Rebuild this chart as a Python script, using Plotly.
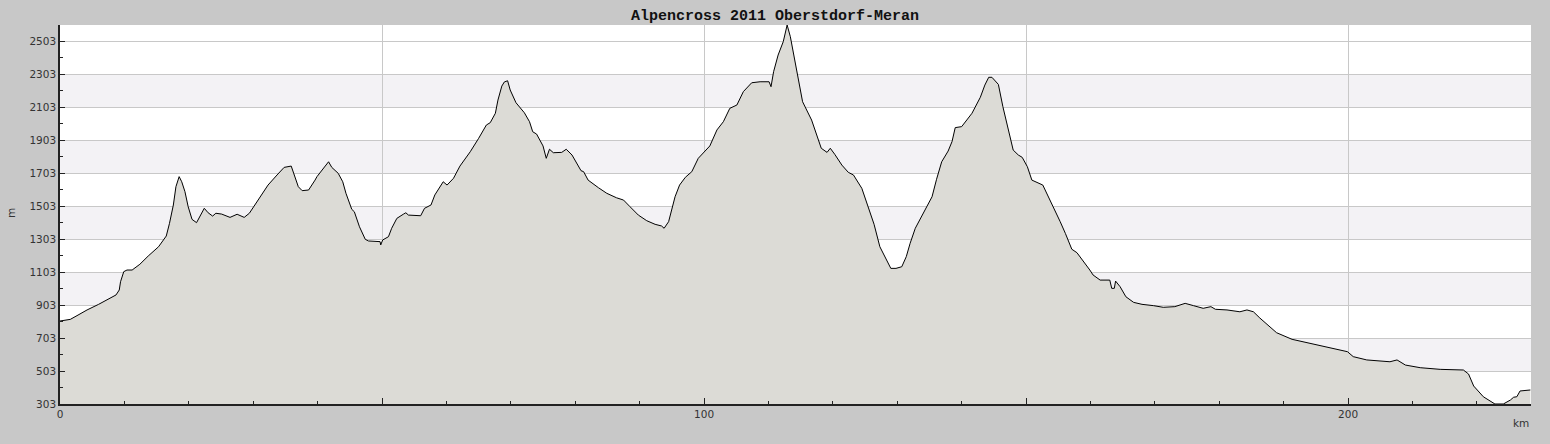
import plotly.graph_objects as go

km = [0.0, 1.6, 2.8, 4.2, 6.0, 7.5, 8.7, 9.2, 9.4, 9.9, 10.4, 11.2, 12.4, 13.7, 15.3, 16.5,
      17.0, 17.6, 18.0, 18.5, 18.9, 19.4, 19.9, 20.5, 21.2, 22.4, 23.0, 23.7, 24.2, 25.1,
      26.4, 27.5, 28.6, 29.4, 30.5, 32.3, 33.7, 34.8, 35.9, 36.5, 37.0, 37.6, 38.6, 39.6,
      39.9, 41.7, 42.2, 43.2, 43.9, 44.4, 45.0, 45.3, 45.7, 46.5, 47.4, 47.9, 49.7, 49.8,
      50.1, 51.0, 51.5, 52.3, 53.3, 53.7, 54.1, 56.0, 56.6, 57.6, 58.2, 59.5, 60.1, 61.1,
      62.1, 63.7, 65.0, 66.2, 66.8, 67.6, 68.0, 68.6, 69.0, 69.5, 69.9, 70.8, 72.1, 72.9,
      73.4, 74.0, 75.0, 75.5, 76.0, 76.6, 77.9, 78.6, 79.5, 80.2, 80.9, 81.3, 82.0, 83.6,
      84.9, 86.4, 87.5, 88.5, 89.8, 91.1, 92.4, 93.4, 93.8, 94.5, 95.0, 95.5, 96.2, 97.1,
      98.1, 99.1, 100.9, 102.0, 103.0, 104.0, 105.1, 106.1, 107.4, 108.7, 110.1, 110.4,
      110.8, 111.5, 112.3, 112.9, 113.4, 114.1, 114.6, 115.3, 116.7, 117.4, 118.2, 119.1,
      119.6, 120.3, 121.4, 122.4, 123.2, 124.5, 125.5, 126.4, 127.3, 128.1, 129.0, 129.8,
      130.7, 131.4, 132.0, 132.8, 134.3, 135.4, 136.1, 136.9, 137.9, 138.5, 139.0, 140.0,
      141.6, 142.9, 143.6, 144.2, 144.7, 145.7, 146.4, 147.5, 148.0, 148.8, 149.4, 150.2,
      150.9, 152.6, 154.0, 155.3, 156.1, 157.1, 157.9, 159.0, 159.9, 160.4, 161.5, 163.0,
      163.3, 163.7, 163.9, 164.6, 165.5, 166.7, 168.0, 169.8, 171.3, 173.1, 174.7, 176.0,
      177.5, 178.7, 179.4, 181.2, 183.2, 184.3, 185.3, 186.3, 187.4, 188.9, 191.3, 194.1,
      196.7, 198.5, 199.9, 200.8, 202.9, 206.5, 207.6, 208.9, 211.2, 214.3, 217.9, 218.7,
      219.5, 221.0, 222.8, 224.1, 225.2, 225.7, 226.2, 226.7, 228.3]
elevation = [806, 816, 842, 873, 907, 938, 964, 994, 1044, 1105, 1115, 1115, 1150, 1200, 1256, 1321,
             1398, 1509, 1620, 1681, 1650, 1590, 1499, 1422, 1402, 1489, 1462, 1442, 1459, 1454,
             1434, 1453, 1434, 1459, 1523, 1630, 1691, 1737, 1745, 1681, 1620, 1596, 1600, 1660,
             1681, 1771, 1737, 1701, 1650, 1580, 1519, 1483, 1468, 1377, 1301, 1291, 1287, 1267,
             1297, 1317, 1368, 1428, 1453, 1462, 1448, 1444, 1489, 1509, 1570, 1650, 1630, 1671,
             1745, 1832, 1913, 1994, 2008, 2065, 2145, 2230, 2255, 2262, 2206, 2129, 2068, 2014,
             1953, 1939, 1867, 1792, 1847, 1826, 1828, 1847, 1812, 1762, 1717, 1711, 1660, 1614,
             1580, 1553, 1539, 1499, 1448, 1414, 1392, 1382, 1368, 1408, 1479, 1559, 1630, 1677,
             1711, 1792, 1867, 1964, 2014, 2095, 2115, 2196, 2250, 2256, 2256, 2226,
             2317, 2418, 2499, 2600, 2529, 2388, 2277, 2135, 2024, 1943, 1853, 1828,
             1853, 1816, 1751, 1707, 1691, 1610, 1489, 1392, 1256, 1192, 1125, 1125,
             1135, 1196, 1277, 1368, 1479, 1559, 1665, 1771, 1836, 1893, 1978, 1984,
             2065, 2162, 2236, 2283, 2283, 2240, 2105, 1923, 1842, 1812, 1798, 1741,
             1660, 1630, 1519, 1408, 1337, 1241, 1220, 1165, 1115, 1085, 1054, 1054,
             1004, 1004, 1048, 1014, 953, 919, 907, 899, 889, 893, 913, 899,
             883, 893, 877, 873, 862, 873, 862, 824, 785, 735, 695, 671,
             647, 636, 620, 590, 570, 559, 570, 539, 523, 513, 509, 485,
             412, 347, 303, 303, 327, 344, 347, 382, 388]

title_text = "Alpencross 2011 Oberstdorf-Meran"
y_min, y_max, y_step = 303, 2600, 200
x_min, x_max = 0, 228.4
x_tickvals = [0, 50, 100, 150, 200]
x_ticktext = ["0", "", "100", "", "200"]

AXIS_COL = "#222222"
GRID_COL = "#c8c8c8"
BAND_COL = "#f3f2f5"
FILL_COL = "#dcdbd6"
TICKFONT = dict(family="DejaVu Sans", size=10.5, color="#333333")

fig = go.Figure()
fig.add_trace(go.Scatter(
    x=km, y=elevation, mode="lines", fill="tozeroy",
    fillcolor=FILL_COL, line=dict(color="black", width=1),
    hoverinfo="skip", showlegend=False,
))

# alternating bands between gridlines
ticks = list(range(y_min, 2504, y_step))
shapes = []
for i in range(1, len(ticks) - 1, 2):
    shapes.append(dict(type="rect", xref="paper", yref="y", x0=0, x1=1,
                       y0=ticks[i], y1=ticks[i + 1], fillcolor=BAND_COL,
                       line=dict(width=0), layer="below"))

fig.update_layout(
    width=1550, height=444,
    margin=dict(l=60, r=19, t=25, b=40),
    paper_bgcolor="#c8c8c8", plot_bgcolor="white",
    shapes=shapes,
    showlegend=False,
    title=dict(text="<b>" + title_text + "</b>", x=0.5, xanchor="center",
               y=1 - 15 / 444, yanchor="middle", yref="container",
               font=dict(family="Liberation Mono", size=15, color="#111111")),
    annotations=[
        dict(text="km", xref="paper", yref="paper", x=(1521 - 60) / 1471,
             y=-(423 - 404) / 379, showarrow=False, xanchor="center", yanchor="middle",
             font=TICKFONT),
        dict(text="m", xref="paper", yref="paper", x=-(60 - 11) / 1471,
             y=(404 - 213) / 379, showarrow=False, xanchor="center", yanchor="middle",
             textangle=-90, font=TICKFONT),
    ],
)
fig.update_xaxes(
    range=[x_min, x_max], tickvals=x_tickvals, ticktext=x_ticktext,
    ticks="inside", ticklen=6, tickcolor=AXIS_COL, tickwidth=1,
    showline=True, linecolor=AXIS_COL, linewidth=1.5,
    showgrid=True, gridcolor=GRID_COL, gridwidth=1, zeroline=False,
    tickfont=TICKFONT,
    minor=dict(dtick=10, tick0=0, ticks="inside", ticklen=3, tickcolor=AXIS_COL, showgrid=False),
)
fig.update_yaxes(
    range=[y_min, y_max], tick0=y_min, dtick=y_step,
    ticks="inside", ticklen=5, tickcolor=AXIS_COL, tickwidth=1,
    showline=True, linecolor=AXIS_COL, linewidth=1.5,
    showgrid=True, gridcolor=GRID_COL, gridwidth=1, zeroline=False,
    tickfont=TICKFONT,
    minor=dict(dtick=100, tick0=y_min, ticks="inside", ticklen=3, tickcolor=AXIS_COL, showgrid=False),
)

fig.write_html("out.html", config={"displayModeBar": False},
               post_script="document.body.style.margin='0';document.body.style.background='#c8c8c8';")
